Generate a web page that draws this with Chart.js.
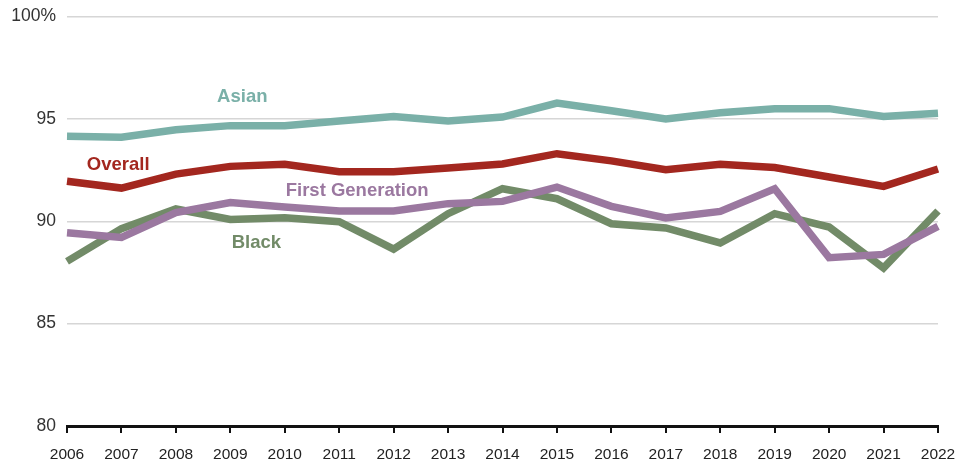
<!DOCTYPE html>
<html>
<head>
<meta charset="utf-8">
<script src="https://cdn.jsdelivr.net/npm/chart.js@4"></script>
<style>
  html, body { margin: 0; padding: 0; background: #fff; }
  #wrap { width: 959px; height: 461px; }
</style>
</head>
<body>
<div id="wrap"><canvas id="rateChart"></canvas></div>
<script>
// Data
const years = ['2006', '2007', '2008', '2009', '2010', '2011', '2012', '2013', '2014', '2015', '2016', '2017', '2018', '2019', '2020', '2021', '2022'];
const asian = [94.15, 94.1, 94.47, 94.67, 94.67, 94.9, 95.12, 94.9, 95.09, 95.77, 95.4, 95.0, 95.3, 95.5, 95.5, 95.12, 95.28];
const overall = [91.95, 91.62, 92.3, 92.68, 92.78, 92.42, 92.42, 92.6, 92.8, 93.3, 92.95, 92.52, 92.78, 92.62, 92.16, 91.7, 92.55];
const firstGen = [89.44, 89.21, 90.42, 90.91, 90.7, 90.5, 90.5, 90.86, 90.97, 91.67, 90.73, 90.16, 90.48, 91.59, 88.22, 88.38, 89.75];
const black = [88.04, 89.64, 90.6, 90.09, 90.17, 89.98, 88.64, 90.37, 91.59, 91.1, 89.88, 89.67, 88.94, 90.37, 89.72, 87.72, 90.5];
const yTicks = [80, 85, 90, 95, 100];

const fontFamily = '"Liberation Sans", Arial, Helvetica, sans-serif';

// Inline series labels, anchored to (category index, value)
const seriesLabels = [
  { text: 'Asian', idx: 3.22, val: 96.05, color: '#7ab0a8' },
  { text: 'Overall', idx: 0.94, val: 92.73, color: '#a3271f' },
  { text: 'First Generation', idx: 5.33, val: 91.46, color: '#9b78a0' },
  { text: 'Black', idx: 3.48, val: 88.96, color: '#728b68' }
];

const labelPlugin = {
  id: 'seriesLabels',
  afterDatasetsDraw(chart) {
    const ctx = chart.ctx;
    const xs = chart.scales.x;
    const ys = chart.scales.y;
    ctx.save();
    ctx.font = 'bold 18.5px ' + fontFamily;
    ctx.textAlign = 'center';
    ctx.textBaseline = 'middle';
    seriesLabels.forEach(l => {
      ctx.fillStyle = l.color;
      ctx.fillText(l.text, xs.getPixelForValue(l.idx), ys.getPixelForValue(l.val));
    });
    ctx.restore();
  }
};

function makeSet(label, data, color) {
  return {
    label: label,
    data: data,
    borderColor: color,
    backgroundColor: color,
    borderWidth: 7.5,
    pointRadius: 0,
    tension: 0,
    fill: false,
    borderJoinStyle: 'miter',
    borderCapStyle: 'butt'
  };
}

new Chart(document.getElementById('rateChart'), {
  type: 'line',
  data: {
    labels: years,
    datasets: [
      makeSet('Asian', asian, '#7ab0a8'),
      makeSet('Overall', overall, '#a3271f'),
      makeSet('First Generation', firstGen, '#9b78a0'),
      makeSet('Black', black, '#728b68')
    ]
  },
  options: {
    responsive: true,
    maintainAspectRatio: false,
    animation: false,
    layout: { padding: { top: 16.5, right: 21, left: 0, bottom: 0 } },
    plugins: {
      legend: { display: false },
      tooltip: { enabled: false }
    },
    scales: {
      x: {
        offset: false,
        afterFit(scale) {
          scale.height = 35;
          scale.paddingLeft = 0;
          scale.paddingRight = 0;
        },
        grid: {
          display: true,
          drawOnChartArea: false,
          drawTicks: true,
          tickLength: 7,
          color: '#111',
          lineWidth: 2
        },
        border: { display: true, color: '#111', width: 3 },
        ticks: {
          color: '#222',
          font: { family: fontFamily, size: 15.5 },
          padding: 12,
          maxRotation: 0,
          autoSkip: false
        }
      },
      y: {
        min: 80,
        max: 100,
        afterFit(scale) {
          scale.width = 67;
          scale.paddingTop = 0;
          scale.paddingBottom = 0;
        },
        afterBuildTicks(scale) { scale.ticks = yTicks.map(v => ({ value: v })); },
        grid: {
          color: '#d6d6d6',
          lineWidth: 1.5,
          drawTicks: false
        },
        border: { display: false },
        ticks: {
          color: '#333',
          font: { family: fontFamily, size: 17.5 },
          padding: 11,
          callback: v => v === 100 ? '100%' : String(v)
        }
      }
    }
  },
  plugins: [labelPlugin]
});
</script>
</body>
</html>
